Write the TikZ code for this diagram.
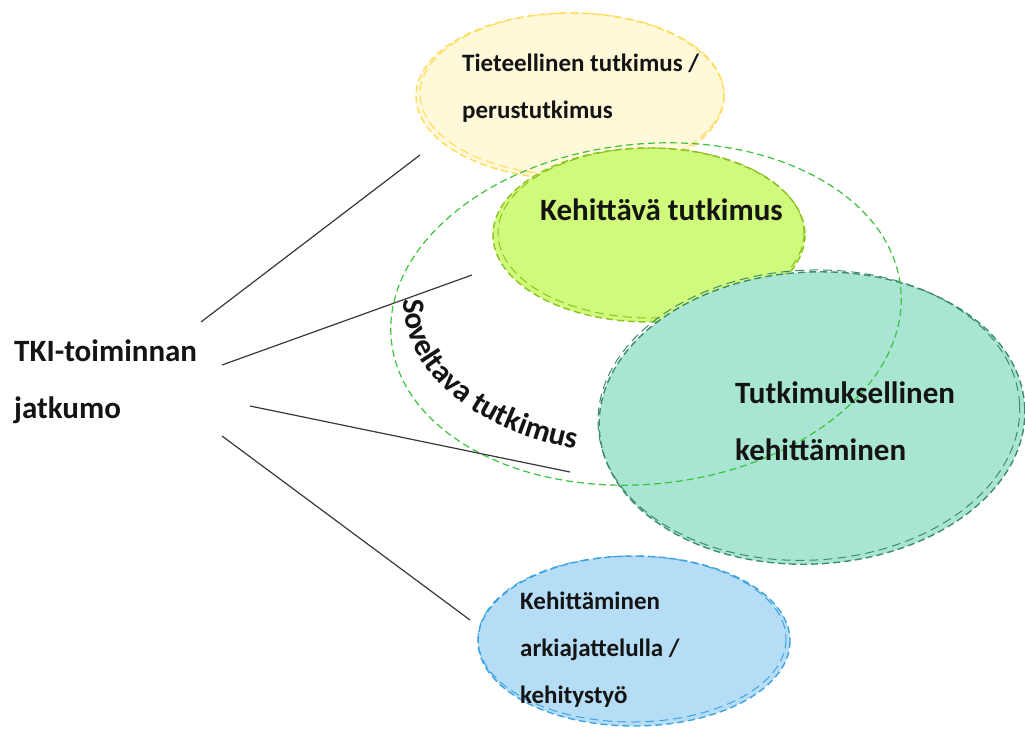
\documentclass[tikz,border=0pt]{standalone}
\usepackage{fontspec}
\setmainfont{Carlito}
\usetikzlibrary{decorations.text}

\definecolor{yelfill}{HTML}{FFF8D9}
\definecolor{yeledge}{HTML}{FFDC5A}
\definecolor{limefill}{HTML}{D0FA7C}
\definecolor{limeedge}{HTML}{8CC21E}
\definecolor{tealfill}{HTML}{A8E6D3}
\definecolor{tealedge}{HTML}{3E8C6E}
\definecolor{bluefill}{HTML}{B6DDF6}
\definecolor{blueedge}{HTML}{3FA3E3}
\definecolor{appedge}{HTML}{3CC23C}
\definecolor{ink}{HTML}{141414}

\begin{document}
\begin{tikzpicture}[x=1pt,y=-1pt,
  lbl/.style={anchor=base west, inner sep=0pt, align=left, text=ink},
  bigtxt/.style={font=\fontsize{31}{57}\selectfont\bfseries},
  smalltxt/.style={font=\fontsize{25}{47}\selectfont\bfseries},
  blob/.style={line width=1.4pt, dash pattern=on 7pt off 4pt},
  ghost/.style={line width=1pt, dash pattern=on 9pt off 5pt},
  conn/.style={draw=black!78, line width=1.2pt}]
\useasboundingbox (0,0) rectangle (1025,729);

% Tieteellinen tutkimus (yellow)
\fill[yelfill] (570,96) ellipse [x radius=154, y radius=83];
\draw[ghost, yeledge] (572,94) ellipse [x radius=152, y radius=81];
\draw[blob, yeledge] (570,96) ellipse [x radius=154, y radius=83];

% Kehittava tutkimus (lime)
\fill[limefill] (649,235) ellipse [x radius=156, y radius=87];
\draw[ghost, limeedge] (651,233) ellipse [x radius=153, y radius=85];
\draw[blob, limeedge] (649,235) ellipse [x radius=156, y radius=87];

% Tutkimuksellinen kehittaminen (teal)
\fill[tealfill, rotate around={3:(812,418)}] (812,418) ellipse [x radius=213, y radius=146];
\draw[ghost, tealedge, rotate around={3:(812,418)}] (809,415) ellipse [x radius=211, y radius=145];
\draw[blob, tealedge, rotate around={3:(812,418)}] (812,418) ellipse [x radius=213, y radius=146];

% Soveltava tutkimus (green outline only)
\draw[blob, appedge, line width=1.2pt, rotate around={6:(646,314)}] (646,314) ellipse [x radius=256, y radius=170];

% Kehittaminen arkiajattelulla (blue)
\fill[bluefill] (634,641) ellipse [x radius=156, y radius=85];
\draw[ghost, blueedge] (632,639) ellipse [x radius=154, y radius=83];
\draw[blob, blueedge] (634,641) ellipse [x radius=156, y radius=85];

% curved label just inside the lower left edge of the green outline
\path[decorate,
  decoration={text along path, text align=left,
    text={|\fontsize{31}{31}\selectfont\bfseries\color{ink}|Soveltava tutkimus}}]
  (642,305) ++(182:238 and 150) arc[start angle=182, end angle=80, x radius=238, y radius=150];

% labels (anchored at the baseline of the last line)
\node[lbl, bigtxt] (tki) at (14,418) {TKI-toiminnan\\jatkumo};
\node[lbl, smalltxt] (tiet) at (462,118) {Tieteellinen tutkimus /\\perustutkimus};
\node[lbl, bigtxt] (keh) at (540,220) {Kehittävä tutkimus};
\node[lbl, bigtxt] (tutk) at (735,460) {Tutkimuksellinen\\kehittäminen};
\node[lbl, smalltxt] (arki) at (520,703) {Kehittäminen\\arkiajattelulla /\\kehitystyö};

% connectors from the continuum label towards each field
\coordinate (c1a) at (201,322); \coordinate (c1b) at (420,155);
\coordinate (c2a) at (222,365); \coordinate (c2b) at (472,275);
\coordinate (c3a) at (250,406); \coordinate (c3b) at (570,472);
\coordinate (c4a) at (222,436); \coordinate (c4b) at (470,620);
\draw[conn] (c1a) -- (c1b);
\draw[conn] (c2a) -- (c2b);
\draw[conn] (c3a) -- (c3b);
\draw[conn] (c4a) -- (c4b);
\end{tikzpicture}
\end{document}
